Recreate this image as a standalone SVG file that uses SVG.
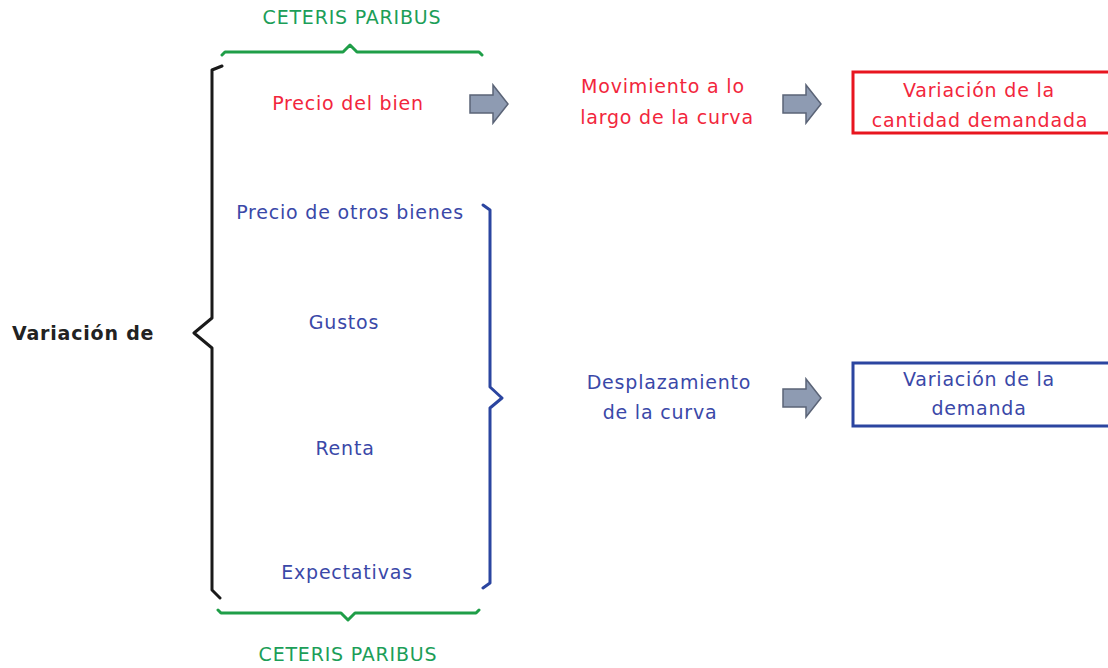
<svg xmlns="http://www.w3.org/2000/svg" width="1108" height="668" viewBox="0 0 1108 668">
<style>
text{font-family:"DejaVu Sans","Liberation Sans",sans-serif;font-size:19px;letter-spacing:0.8px;text-anchor:middle}
.red{fill:#f2263c}
.blue{fill:#3a48a8}
.green{fill:#1c9e58}
.blk{fill:#222;font-weight:bold;text-anchor:start}
.brace{fill:none;stroke-width:3;stroke-linejoin:round;stroke-linecap:round}
.arrow{fill:#8e9bb2;stroke:#5b6477;stroke-width:1.5}
</style>
<defs>
<path id="arr" d="M0,-9 H23 V-19 L38,0 L23,19 V9 H0 Z"/>
</defs>
<g id="braces">
<path class="brace" stroke="#1f9e48" d="M222,55 L225,52 H343 L350,45 L357,52 H479 L482,55"/>
<path class="brace" stroke="#1f9e48" d="M218,610 L221,613 H341 L348,620 L355,613 H476 L479,610"/>
<path class="brace" stroke="#1a1a1a" d="M222,66 L212,70 V318 L194,333 L212,348 V590 L220,598"/>
<path class="brace" stroke="#2b45a0" d="M483,205 L490,210 V387 L502,398 L490,408 V583 L483,588"/>
</g>
<g id="connectors">
<use href="#arr" class="arrow" x="470" y="104"/>
<use href="#arr" class="arrow" x="783" y="104"/>
<use href="#arr" class="arrow" x="783" y="398"/>
</g>
<g id="ceteris-top"><text class="green" x="352" y="24">CETERIS PARIBUS</text></g>
<g id="ceteris-bottom"><text class="green" x="348" y="661">CETERIS PARIBUS</text></g>
<g id="variacion-de"><text class="blk" x="12" y="340">Variación de</text></g>
<g id="precio-bien"><text class="red" x="348" y="110">Precio del bien</text></g>
<g id="precio-otros"><text class="blue" x="350" y="219">Precio de otros bienes</text></g>
<g id="gustos"><text class="blue" x="344" y="329">Gustos</text></g>
<g id="renta"><text class="blue" x="345" y="455">Renta</text></g>
<g id="expectativas"><text class="blue" x="347" y="579">Expectativas</text></g>
<g id="movimiento"><text class="red" x="663" y="93">Movimiento a lo</text><text class="red" x="667" y="124">largo de la curva</text></g>
<g id="desplazamiento"><text class="blue" x="669" y="389">Desplazamiento</text><text class="blue" x="660" y="419">de la curva</text></g>
<g id="var-cantidad">
<rect x="853" y="72" width="270" height="61" fill="none" stroke="#e8151f" stroke-width="3"/>
<text class="red" x="979" y="97">Variación de la</text>
<text class="red" x="980" y="127">cantidad demandada</text>
</g>
<g id="var-demanda">
<rect x="853" y="363" width="270" height="63" fill="none" stroke="#2b45a0" stroke-width="3"/>
<text class="blue" x="979" y="386">Variación de la</text>
<text class="blue" x="979" y="415">demanda</text>
</g>
</svg>
